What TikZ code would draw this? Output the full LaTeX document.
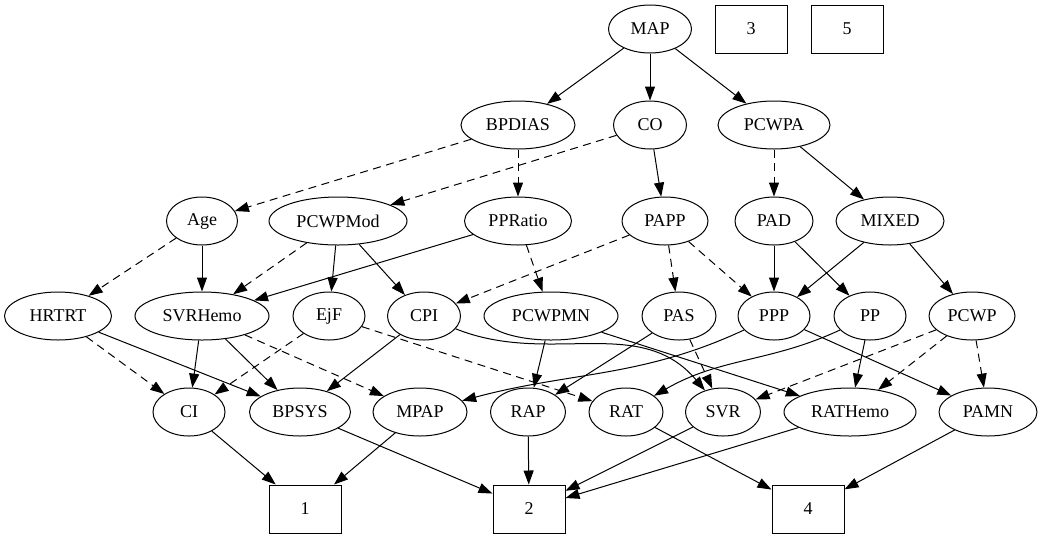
\documentclass[tikz,border=0pt]{standalone}
\usepackage{fontspec}
\setmainfont{Liberation Serif}
\usetikzlibrary{shapes.geometric,arrows.meta}
\begin{document}
\begin{tikzpicture}[x=1pt,y=-1pt,
  el/.style={draw, ellipse, line width=1pt, minimum height=48pt, inner sep=0pt, font=\fontsize{18}{20}\selectfont},
  bx/.style={draw, rectangle, line width=1pt, minimum width=72pt, minimum height=48pt, inner sep=0pt, font=\fontsize{18}{20}\selectfont},
  edge/.style={line width=1pt, -{Triangle[length=14pt,width=10pt]}},
  dsh/.style={edge, dash pattern=on 8pt off 5.5pt}]
\useasboundingbox (0,0) rectangle (1043,539);
% row 1
\node[el, minimum width=83pt] (MAP) at (650,29) {MAP};
\node[bx] (n3) at (751,29) {3};
\node[bx] (n5) at (847,29) {5};
% row 2
\node[el, minimum width=114pt] (BPDIAS) at (518,125) {BPDIAS};
\node[el, minimum width=73pt] (CO) at (650,125) {CO};
\node[el, minimum width=112pt] (PCWPA) at (774,125) {PCWPA};
% row 3
\node[el, minimum width=71pt] (Age) at (202,221) {Age};
\node[el, minimum width=138pt] (PCWPMod) at (338,221) {PCWPMod};
\node[el, minimum width=107pt] (PPRatio) at (518,221) {PPRatio};
\node[el, minimum width=86pt] (PAPP) at (665,221) {PAPP};
\node[el, minimum width=78pt] (PAD) at (774,221) {PAD};
\node[el, minimum width=108pt] (MIXED) at (890,221) {MIXED};
% row 4
\node[el, minimum width=107pt] (HRTRT) at (58,316) {HRTRT};
\node[el, minimum width=134pt] (SVRHemo) at (202,316) {SVRHemo};
\node[el, minimum width=72pt] (EjF) at (329,316) {EjF};
\node[el, minimum width=73pt] (CPI) at (424,316) {CPI};
\node[el, minimum width=134pt] (PCWPMN) at (551,316) {PCWPMN};
\node[el, minimum width=74pt] (PAS) at (679,316) {PAS};
\node[el, minimum width=72pt] (PPP) at (774,316) {PPP};
\node[el, minimum width=72pt] (PP) at (870,316) {PP};
\node[el, minimum width=86pt] (PCWP) at (972,316) {PCWP};
% row 5
\node[el, minimum width=72pt] (CI) at (189,412) {CI};
\node[el, minimum width=101pt] (BPSYS) at (300,412) {BPSYS};
\node[el, minimum width=94pt] (MPAP) at (420,412) {MPAP};
\node[el, minimum width=75pt] (RAP) at (528,412) {RAP};
\node[el, minimum width=74pt] (RAT) at (626,412) {RAT};
\node[el, minimum width=75pt] (SVR) at (723,412) {SVR};
\node[el, minimum width=132pt] (RATHemo) at (850,412) {RATHemo};
\node[el, minimum width=98pt] (PAMN) at (988,412) {PAMN};
% row 6
\node[bx] (n1) at (305,509) {1};
\node[bx] (n2) at (529,509) {2};
\node[bx] (n4) at (808,509) {4};
% edges
\draw[edge] (MAP) -- (BPDIAS);
\draw[edge] (MAP) -- (CO);
\draw[edge] (MAP) -- (PCWPA);
\draw[dsh] (BPDIAS) -- (Age);
\draw[dsh] (BPDIAS) -- (PPRatio);
\draw[dsh] (CO) -- (PCWPMod);
\draw[edge] (CO) -- (PAPP);
\draw[dsh] (PCWPA) -- (PAD);
\draw[edge] (PCWPA) -- (MIXED);
\draw[dsh] (Age) -- (HRTRT);
\draw[edge] (Age) -- (SVRHemo);
\draw[dsh] (PCWPMod) -- (SVRHemo);
\draw[edge] (PCWPMod) -- (EjF);
\draw[edge] (PCWPMod) -- (CPI);
\draw[edge] (PPRatio) -- (SVRHemo);
\draw[dsh] (PPRatio) -- (PCWPMN);
\draw[dsh] (PAPP) -- (CPI);
\draw[dsh] (PAPP) -- (PAS);
\draw[dsh] (PAPP) -- (PPP);
\draw[edge] (PAD) -- (PPP);
\draw[edge] (PAD) -- (PP);
\draw[edge] (MIXED) -- (PPP);
\draw[edge] (MIXED) -- (PCWP);
\draw[dsh] (HRTRT) -- (CI);
\draw[edge] (HRTRT) -- (BPSYS);
\draw[edge] (SVRHemo) -- (CI);
\draw[edge] (SVRHemo) -- (BPSYS);
\draw[dsh] (SVRHemo) -- (MPAP);
\draw[dsh] (EjF) -- (CI);
\draw[dsh] (EjF) -- (RAT);
\draw[edge] (CPI) -- (BPSYS);
\draw[edge] (CPI) to[out=-22, in=130] (SVR);
\draw[edge] (PCWPMN) -- (RAP);
\draw[edge] (PCWPMN) -- (RATHemo);
\draw[edge] (PAS) -- (RAP);
\draw[dsh] (PAS) -- (SVR);
\draw[edge] (PPP) to[out=205, in=15] (MPAP);
\draw[edge] (PPP) -- (PAMN);
\draw[edge] (PP) to[out=205, in=30] (RAT);
\draw[edge] (PP) -- (RATHemo);
\draw[dsh] (PCWP) -- (SVR);
\draw[dsh] (PCWP) -- (RATHemo);
\draw[dsh] (PCWP) -- (PAMN);
\draw[edge] (CI) -- (n1);
\draw[edge] (MPAP) -- (n1);
\draw[edge] (BPSYS) -- (n2);
\draw[edge] (RAP) -- (n2);
\draw[edge] (SVR) -- (n2);
\draw[edge] (RATHemo) -- (n2);
\draw[edge] (RAT) -- (n4);
\draw[edge] (PAMN) -- (n4);
\end{tikzpicture}
\end{document}
